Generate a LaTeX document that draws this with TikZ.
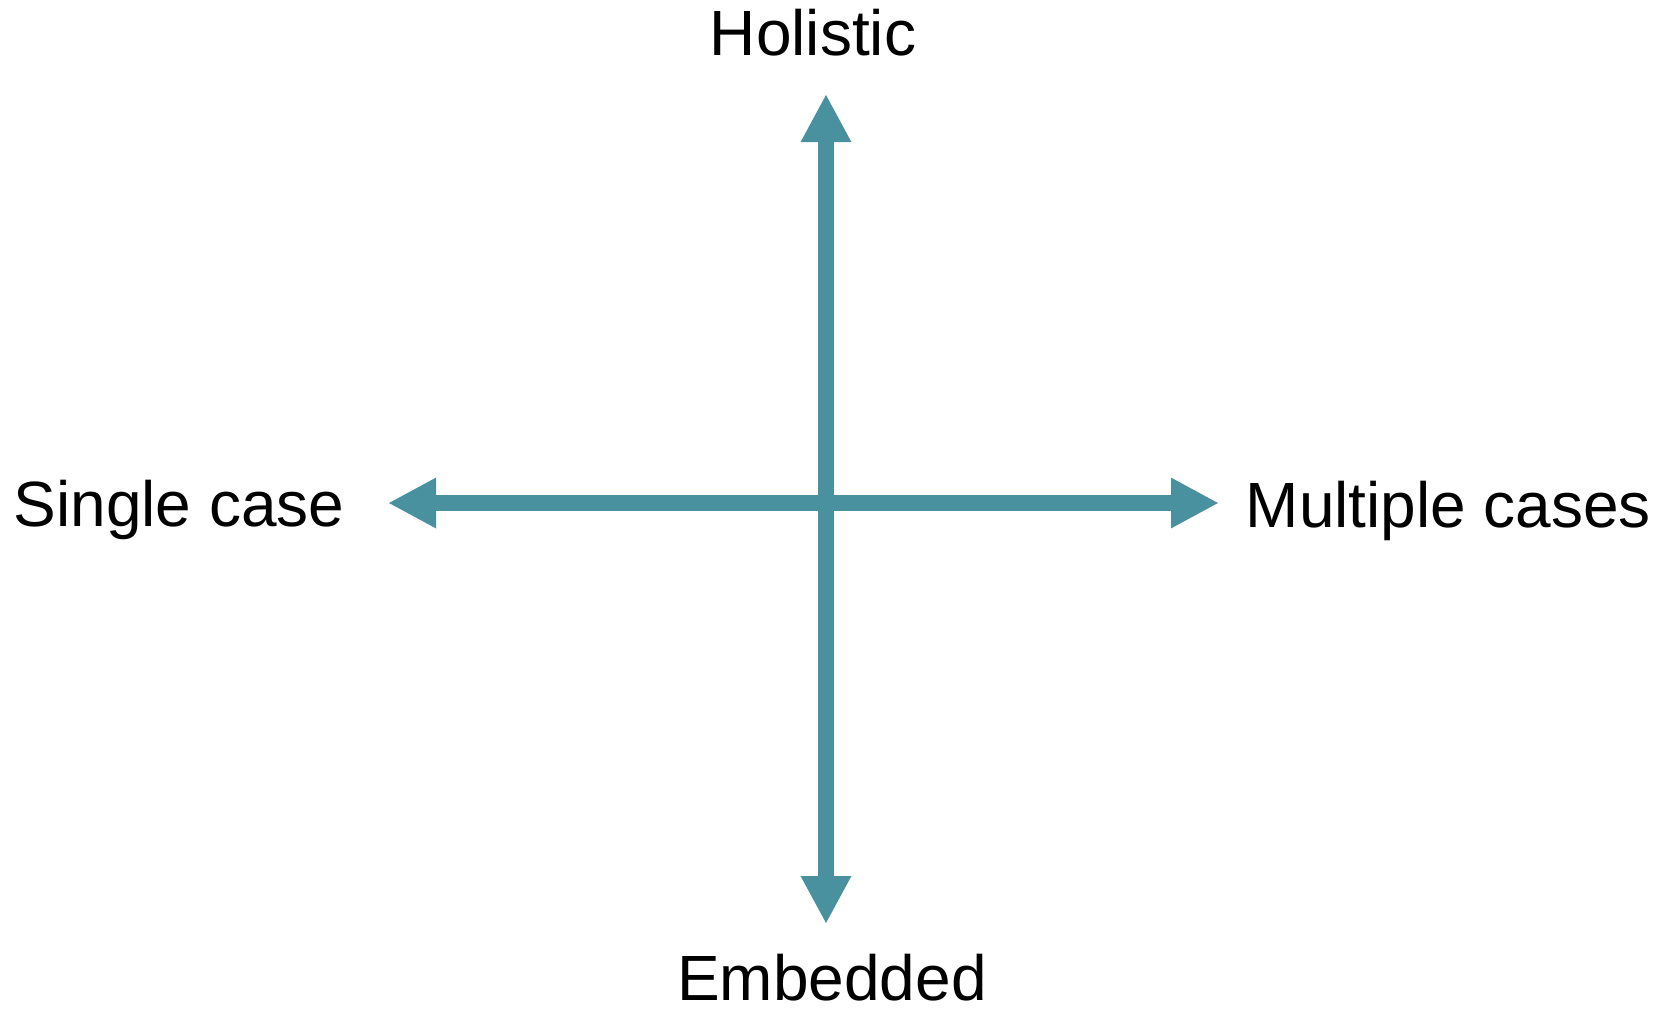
\documentclass[tikz,border=0pt]{standalone}
\usepackage{fontspec}
\setmainfont{Liberation Sans}
\usepackage{xcolor}
\usepackage{tikz}
\usetikzlibrary{arrows.meta}
\definecolor{axisteal}{RGB}{74,145,160}
\tikzset{
  axis/.style={
    {Triangle[length=4.8mm, width=4.7mm]}-{Triangle[length=4.8mm, width=4.7mm]},
    line width=1.6mm, draw=axisteal, fill=axisteal,
  },
  pole/.style={
    font=\fontsize{18.2}{22}\selectfont, text=black, inner sep=0pt,
  },
}

\begin{document}
\begin{tikzpicture}[x=0.1mm,y=-0.1mm]
  \useasboundingbox (0,0) rectangle (1665,1009);

  \coordinate (top) at (826,94);
  \coordinate (bot) at (826,924);
  \coordinate (lft) at (388,503);
  \coordinate (rgt) at (1219,503);

  \draw[axis] (lft) -- (rgt);
  \draw[axis] (bot) -- (top);

  \node[pole, anchor=base] (hol) at (813,55) {Holistic};
  \node[pole, anchor=base] (emb) at (832,1000) {Embedded};
  \node[pole, anchor=base west] (sgl) at (13,526) {Single case};
  \node[pole, anchor=base west] (mul) at (1245,527) {Multiple cases};
\end{tikzpicture}
\end{document}
